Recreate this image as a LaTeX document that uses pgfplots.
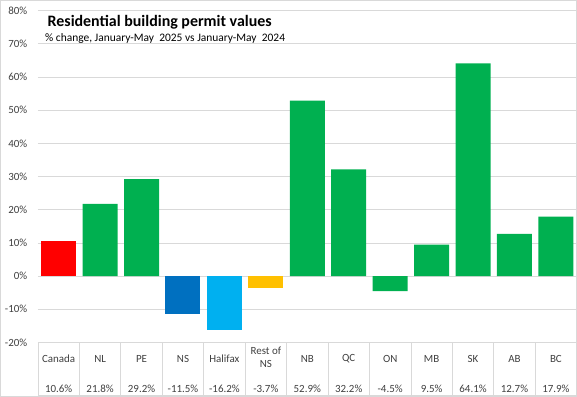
\documentclass[border=0pt]{standalone}
\usepackage{pgfplots}
\pgfplotsset{compat=1.18}
\usepackage{fontspec}
\setmainfont{Carlito}
\definecolor{cred}{HTML}{FF0000}
\definecolor{cgreen}{HTML}{00B050}
\definecolor{cdblue}{HTML}{0070C0}
\definecolor{clblue}{HTML}{00B0F0}
\definecolor{cyellow}{HTML}{FFC000}
\definecolor{gridc}{HTML}{D9D9D9}
\definecolor{labc}{HTML}{404040}
\begin{document}
\begin{tikzpicture}[x=1bp,y=1bp]
\draw[color=gridc, line width=0.75bp] (0.4,0.4) rectangle (576.6,396.6);
\begin{axis}[
  at={(38bp,54.3bp)}, anchor=south west,
  scale only axis, width=539bp, height=332bp,
  xmin=-0.5, xmax=12.5, ymin=-20, ymax=80,
  ytick={-20,-10,...,80},
  yticklabel={\pgfmathprintnumber{\tick}\%},
  /pgf/number format/assume math mode=true,
  yticklabel style={font=\fontsize{11}{12}\selectfont, text=labc, inner sep=0pt, xshift=-10.5bp},
  ymajorgrids, grid style={gridc, line width=0.75bp},
  axis line style={draw=none},
  xtick=\empty, major tick length=0pt,
  ybar, bar width=35bp, clip=false,
]
\addplot[fill=cred, draw=none, bar shift=0pt] coordinates {(0,10.6)};
\addplot[fill=cgreen, draw=none, bar shift=0pt] coordinates {(1,21.8) (2,29.2) (6,52.9) (7,32.2) (8,-4.5) (9,9.5) (10,64.1) (11,12.7) (12,17.9)};
\addplot[fill=cdblue, draw=none, bar shift=0pt] coordinates {(3,-11.5)};
\addplot[fill=clblue, draw=none, bar shift=0pt] coordinates {(4,-16.2)};
\addplot[fill=cyellow, draw=none, bar shift=0pt] coordinates {(5,-3.7)};
% data table lines
\tikzset{tl/.style={gridc, line width=0.75bp}}
\draw[tl] (axis cs:-0.5,-20) -- ([yshift=-53bp]axis cs:-0.5,-20) -- ([yshift=-53bp]axis cs:12.5,-20);
\draw[tl] (axis cs:0.5,-20) -- ([yshift=-53bp]axis cs:0.5,-20);
\draw[tl] (axis cs:1.5,-20) -- ([yshift=-53bp]axis cs:1.5,-20);
\draw[tl] (axis cs:2.5,-20) -- ([yshift=-53bp]axis cs:2.5,-20);
\draw[tl] (axis cs:3.5,-20) -- ([yshift=-53bp]axis cs:3.5,-20);
\draw[tl] (axis cs:4.5,-20) -- ([yshift=-53bp]axis cs:4.5,-20);
\draw[tl] (axis cs:5.5,-20) -- ([yshift=-53bp]axis cs:5.5,-20);
\draw[tl] (axis cs:6.5,-20) -- ([yshift=-53bp]axis cs:6.5,-20);
\draw[tl] (axis cs:7.5,-20) -- ([yshift=-53bp]axis cs:7.5,-20);
\draw[tl] (axis cs:8.5,-20) -- ([yshift=-53bp]axis cs:8.5,-20);
\draw[tl] (axis cs:9.5,-20) -- ([yshift=-53bp]axis cs:9.5,-20);
\draw[tl] (axis cs:10.5,-20) -- ([yshift=-53bp]axis cs:10.5,-20);
\draw[tl] (axis cs:11.5,-20) -- ([yshift=-53bp]axis cs:11.5,-20);
\tikzset{cat/.style={font=\fontsize{11}{13}\selectfont, text=labc, align=center, inner sep=0pt, anchor=center}}
\node[cat] at ([yshift=-16.5bp]axis cs:0,-20) {Canada};
\node[cat] at ([yshift=-16.5bp]axis cs:1,-20) {NL};
\node[cat] at ([yshift=-16.5bp]axis cs:2,-20) {PE};
\node[cat] at ([yshift=-16.5bp]axis cs:3,-20) {NS};
\node[cat] at ([yshift=-16.5bp]axis cs:4,-20) {Halifax};
\node[cat] at ([yshift=-15bp]axis cs:5,-20) {Rest of\\NS};
\node[cat] at ([yshift=-16.5bp]axis cs:6,-20) {NB};
\node[cat] at ([yshift=-16.5bp]axis cs:7,-20) {QC};
\node[cat] at ([yshift=-16.5bp]axis cs:8,-20) {ON};
\node[cat] at ([yshift=-16.5bp]axis cs:9,-20) {MB};
\node[cat] at ([yshift=-16.5bp]axis cs:10,-20) {SK};
\node[cat] at ([yshift=-16.5bp]axis cs:11,-20) {AB};
\node[cat] at ([yshift=-16.5bp]axis cs:12,-20) {BC};
\node[cat] at ([yshift=-46.5bp]axis cs:0,-20) {10.6\%};
\node[cat] at ([yshift=-46.5bp]axis cs:1,-20) {21.8\%};
\node[cat] at ([yshift=-46.5bp]axis cs:2,-20) {29.2\%};
\node[cat] at ([yshift=-46.5bp]axis cs:3,-20) {-11.5\%};
\node[cat] at ([yshift=-46.5bp]axis cs:4,-20) {-16.2\%};
\node[cat] at ([yshift=-46.5bp]axis cs:5,-20) {-3.7\%};
\node[cat] at ([yshift=-46.5bp]axis cs:6,-20) {52.9\%};
\node[cat] at ([yshift=-46.5bp]axis cs:7,-20) {32.2\%};
\node[cat] at ([yshift=-46.5bp]axis cs:8,-20) {-4.5\%};
\node[cat] at ([yshift=-46.5bp]axis cs:9,-20) {9.5\%};
\node[cat] at ([yshift=-46.5bp]axis cs:10,-20) {64.1\%};
\node[cat] at ([yshift=-46.5bp]axis cs:11,-20) {12.7\%};
\node[cat] at ([yshift=-46.5bp]axis cs:12,-20) {17.9\%};
\end{axis}
\node[anchor=base west, inner sep=0pt, font=\bfseries\fontsize{16}{19}\selectfont] at (47.5,370.3) {Residential building permit values};
\node[anchor=base west, inner sep=0pt, font=\fontsize{11.5}{14}\selectfont] at (45,355.5) {\% change, January-May\ \ 2025 vs January-May\ \ 2024};
\end{tikzpicture}
\end{document}
